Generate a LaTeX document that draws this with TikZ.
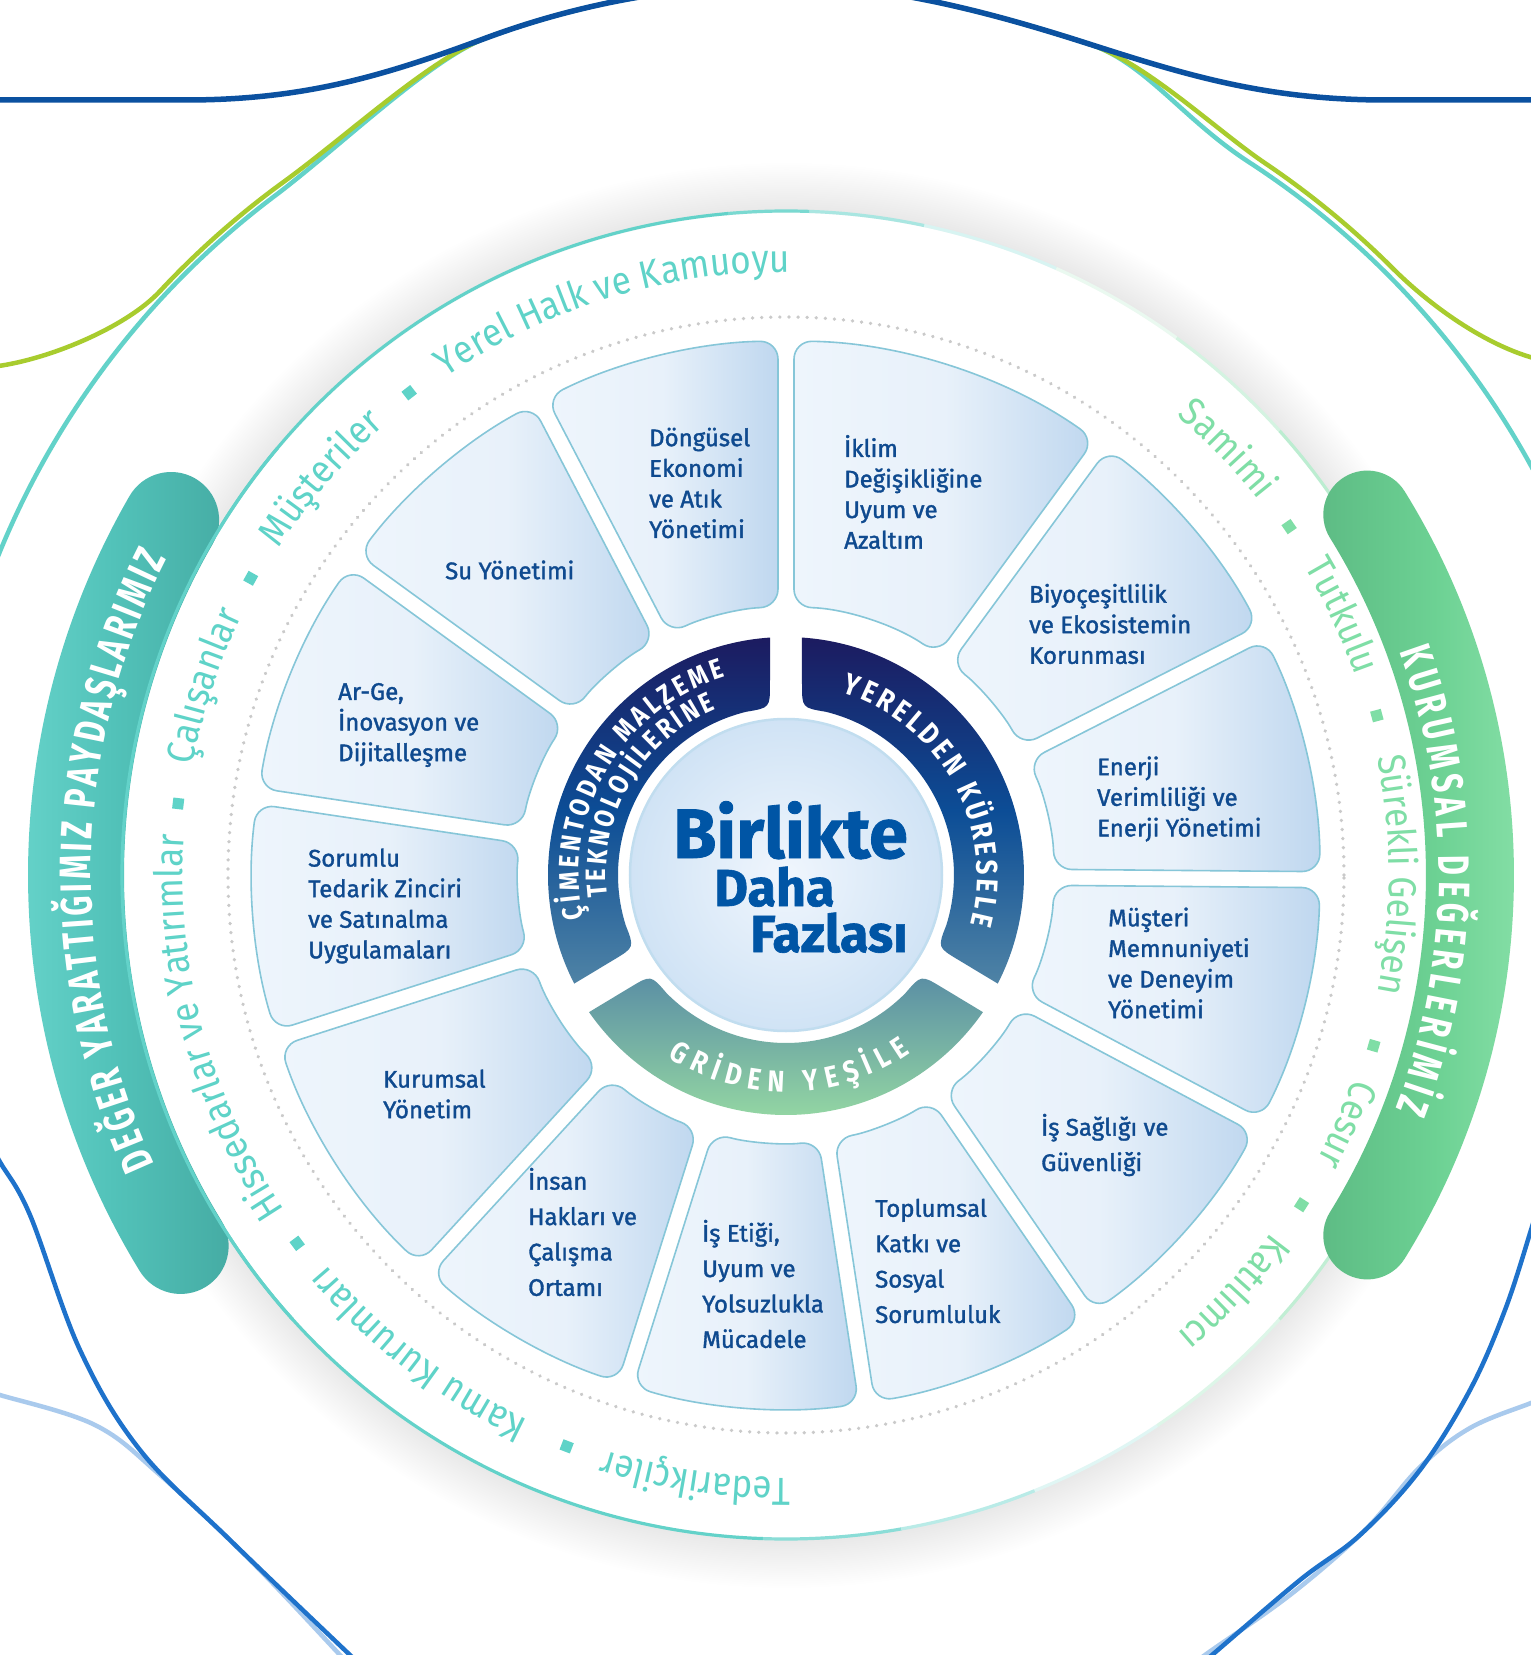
\documentclass[tikz,border=0pt]{standalone}
\usepackage{fontspec}
\setmainfont{Fira Sans}
\usetikzlibrary{decorations.text,calc}
\newfontfamily\tilefam{Fira Sans}[FakeBold=1.5]
\newfontfamily\ringfam{Fira Sans}[FakeStretch=0.85]
\newfontfamily\bandfam{Fira Sans}[FakeStretch=0.7]
\newfontfamily\olfam{Fira Sans}[FakeStretch=0.9]
\newfontfamily\ctrfam{Fira Sans}[FakeBold=1.2]
\newcommand\RFa{\ringfam\bfseries\fontsize{28}{30}\selectfont}
\newcommand\RFb{\ringfam\bfseries\fontsize{30}{32}\selectfont}
\newcommand\BFt{\bandfam\bfseries\fontsize{44}{48}\selectfont}
\newcommand\OLF{\olfam\fontsize{39}{44}\selectfont}
\newcommand\CTa{\ctrfam\bfseries\fontsize{70}{74}\selectfont}
\newcommand\CTb{\ctrfam\bfseries\fontsize{52}{56}\selectfont}
\definecolor{navyA}{HTML}{1C1B60}
\definecolor{ringB}{HTML}{0C4D96}
\definecolor{ringS}{HTML}{4F83A5}
\definecolor{griT}{HTML}{5A8EA4}
\definecolor{griB}{HTML}{95D8A3}
\definecolor{tealLab}{HTML}{5FD3C8}
\definecolor{greenLab}{HTML}{7FDEA6}
\definecolor{tileTxt}{HTML}{0F4A8F}
\definecolor{ctrTxt}{HTML}{0055A5}
\definecolor{tileL}{HTML}{EEF5FC}
\definecolor{tileM}{HTML}{E8F1FA}
\definecolor{tileR}{HTML}{BFD7EF}
\definecolor{tileB}{HTML}{86C6D8}
\definecolor{bandTL}{HTML}{6BD7CE}
\definecolor{bandTM}{HTML}{52C2B9}
\definecolor{bandTD}{HTML}{45ABA3}
\definecolor{bandGL}{HTML}{8DE3AC}
\definecolor{bandGM}{HTML}{6CD193}
\definecolor{bandGD}{HTML}{5DBB84}
\definecolor{blueWave}{HTML}{0B51A0}
\definecolor{tealLine}{HTML}{63D2C9}
\definecolor{greenLine}{HTML}{A8CC2E}
\definecolor{blueLow}{HTML}{1E72CB}
\definecolor{blueLight}{HTML}{A9CAED}
\definecolor{greenThin}{HTML}{9FE5BD}
\definecolor{dotC}{HTML}{CACACA}
\definecolor{ctrIn}{HTML}{F0F6FD}
\definecolor{ctrOut}{HTML}{D0E3F5}
\pgfdeclareradialshading{ringshadow}{\pgfpointorigin}{color(0bp)=(white); color(22.85bp)=(white); color(22.9bp)=(black!9); color(24.6bp)=(white); color(50bp)=(white)}
\newcommand\OL[3]{%
 \pgfmathsetmacro\olA{#1+45}\pgfmathsetmacro\olB{#1-45}%
 \path[decorate,decoration={text along path,text={|\OLF|#3},text color=#2,text align=center}] (\olA:603) arc[start angle=\olA,end angle=\olB,radius=603];}
\begin{document}
\begin{tikzpicture}[x=1pt,y=1pt,
  tilebox/.style={shade,left color=tileL,right color=tileR,middle color=tileM,draw=tileB,line width=1.6,rounded corners=18pt},
  tt/.style={font=\tilefam\fontsize{24}{30.6}\selectfont,text=tileTxt,align=left,inner sep=0pt,anchor=west},
  ttw/.style={font=\tilefam\fontsize{24}{35.4}\selectfont,text=tileTxt,align=left,inner sep=0pt,anchor=west},
  blt/.style={minimum size=11pt,inner sep=0pt,draw=none},
  bgline/.style={line width=4.5,line cap=round}]
\useasboundingbox (-786,-780) rectangle (745,875);
\fill[white] (-786,-780) rectangle (745,875);
% ---------- background curves
\begin{scope}
\clip (-786,-780) rectangle (745,875);
\draw[bgline,tealLine] (159:850) arc[start angle=159,end angle=127,radius=850]
  .. controls (-447.5,727) and (-356,816) .. (-300,837)
  .. controls (-200,874) and (-100,890) .. (0,890)
  .. controls (100,890) and (200,864) .. (300,832)
  .. controls (357.5,814.8) and (395.8,756.5) .. (57:850)
  arc[start angle=57,end angle=25,radius=850];
\draw[bgline,greenLine] (-795,508) .. controls (-740,514) and (-660.1,547.3) .. (137:856)
  arc[start angle=137,end angle=126,radius=856]
  .. controls (-438.4,739.5) and (-356.3,816.2) .. (-300,837)
  .. controls (-200,874) and (-100,890) .. (0,890)
  .. controls (100,890) and (200,864) .. (300,832)
  .. controls (357.5,814.8) and (430,744.8) .. (56:858)
  arc[start angle=56,end angle=45,radius=858]
  .. controls (642,571.3) and (700,528) .. (755,515);
\draw[bgline,blueWave,line width=5.5] (-800,775) -- (-600,775)
  .. controls (-480,775) and (-400,800) .. (-300,837)
  .. controls (-200,874) and (-100,890) .. (0,890)
  .. controls (100,890) and (200,864) .. (300,832)
  .. controls (400,800) and (480,775) .. (600,775) -- (760,775);
\draw[bgline,blueLight] plot[smooth,tension=0.6] coordinates {(-800,-516) (-786,-520) (-691,-550) (-626,-600) (-536,-685) (-446,-780) (-432,-796)};
\draw[bgline,blueLow] plot[smooth,tension=0.6] coordinates {(-800,-262) (-786,-287) (-756,-340) (-706,-475) (-646,-575) (-556,-665) (-436,-780) (-418,-796)};
\draw[bgline,blueLight] plot[smooth,tension=0.6] coordinates {(760,-522) (745,-528) (684,-553) (634,-592) (579,-655) (504,-720) (419,-780) (404,-793)};
\draw[bgline,blueLow] plot[smooth,tension=0.6] coordinates {(752,-330) (745,-355) (719,-435) (684,-515) (634,-595) (574,-660) (514,-705) (426,-780) (410,-793)};
\end{scope}
% ---------- soft shadow ring and thin circle
\shade[shading=ringshadow] (0,0) circle (725);
\foreach \a/\b/\c in {95/268/tealLine,268/280/tealLine!75,280/292/tealLine!45,292/304/tealLine!20,
  304/318/greenThin!35,318/332/greenThin!65,332/390/greenThin,390/402/greenThin!70,
  402/414/greenThin!45,414/426/greenThin!22,426/438/tealLine!25,438/448/tealLine!55,448/455/tealLine!85}
  \draw[line width=3.2,color=\c] (\a:664) arc[start angle=\a,end angle=\b,radius=664];
% ---------- side bands (round caps)
\path[shade,left color=bandTL,right color=bandTD,middle color=bandTM]
  (150:758) arc[start angle=150,end angle=211.5,radius=758]
  arc[start angle=211.5,end angle=391.5,radius=48]
  arc[start angle=211.5,end angle=150,radius=662]
  arc[start angle=330,end angle=510,radius=48] -- cycle;
\draw[line width=3.2,color=tealLine] (140:664) arc[start angle=140,end angle=222,radius=664];
\path[shade,left color=bandGD,right color=bandGL,middle color=bandGM]
  (-31.8:728) arc[start angle=-31.8,end angle=31.8,radius=728]
  arc[start angle=31.8,end angle=211.8,radius=44]
  arc[start angle=31.8,end angle=-31.8,radius=640]
  arc[start angle=148.2,end angle=328.2,radius=44] -- cycle;
\path[decorate,decoration={text along path,text={|\BFt|DEĞER YARATTIĞIMIZ PAYDAŞLARIMIZ},text color=white,text align={fit to path}}]
  (204.6:695) arc[start angle=204.6,end angle=152.9,radius=695];
\path[decorate,decoration={text along path,text={|\BFt|KURUMSAL DEĞERLERİMİZ},text color=white,text align={fit to path}}]
  (20:653) arc[start angle=20,end angle=-21,radius=653];
% ---------- outer labels
\OL{107}{tealLab}{Yerel Halk ve Kamuoyu}
\OL{139.5}{tealLab}{Müşteriler}
\OL{162}{tealLab}{Çalışanlar}
\OL{195}{tealLab}{Hissedarlar ve Yatırımlar}
\OL{232.5}{tealLab}{Kamu Kurumları}
\OL{261.5}{tealLab}{Tedarikçiler}
\OL{44}{greenLab}{Samimi}
\OL{25}{greenLab}{Tutkulu}
\OL{0}{greenLab}{Sürekli Gelişen}
\OL{-24}{greenLab}{Cesur}
\OL{-43}{greenLab}{Katılımcı}
\foreach \a [count=\i] in {128,151,173.3,217,249}
  \node[blt,fill=tealLab,rotate=\a] (bt\i) at (\a:612) {};
\foreach \a [count=\i] in {34.7,15.1,-16.2,-32.6}
  \node[blt,fill=greenLab,rotate=\a] (bg\i) at (\a:612) {};
% ---------- dotted circle
\draw[dotC,line width=3.6,line cap=round,dash pattern=on 0.1pt off 9pt] (0,0) circle (558);
% ---------- tiles
\foreach \ga/\gb in {-0.5/27,27/53.8,53.8/90,90/117.5,117.5/144,144/171.5,171.5/197.8,197.8/227.5,227.5/252.5,252.5/278.7,278.7/304.5,304.5/332,332/359.5}{
  \pgfmathsetmacro\tOa{\ga+0.86}\pgfmathsetmacro\tOb{\gb-0.86}
  \pgfmathsetmacro\tIa{\ga+1.71}\pgfmathsetmacro\tIb{\gb-1.71}
  \path[tilebox] (\tOa:534) arc[start angle=\tOa,end angle=\tOb,radius=534]
    -- (\tIb:268) arc[start angle=\tIb,end angle=\tIa,radius=268] -- cycle;
}
\node[tt] (t1) at (-137,392) {Döngüsel\\Ekonomi\\ve Atık\\Yönetimi};
\node[tt] (t2) at (58,383) {İklim\\Değişikliğine\\Uyum ve\\Azaltım};
\node[tt] (t3) at (243,251) {Biyoçeşitlilik\\ve Ekosistemin\\Korunması};
\node[tt] (t4) at (311,76) {Enerji\\Verimliliği ve\\Enerji Yönetimi};
\node[tt] (t5) at (322,-88) {Müşteri\\Memnuniyeti\\ve Deneyim\\Yönetimi};
\node[ttw] (t6) at (255,-270) {İş Sağlığı ve\\Güvenliği};
\node[ttw] (t7) at (89,-386) {Toplumsal\\Katkı ve\\Sosyal\\Sorumluluk};
\node[ttw] (t8) at (-84,-409) {İş Etiği,\\Uyum ve\\Yolsuzlukla\\Mücadele};
\node[ttw] (t9) at (-258,-357) {İnsan\\Hakları ve\\Çalışma\\Ortamı};
\node[tt] (t10) at (-403,-219) {Kurumsal\\Yönetim};
\node[tt] (t11) at (-478,-31) {Sorumlu\\Tedarik Zinciri\\ve Satınalma\\Uygulamaları};
\node[tt] (t12) at (-448,150) {Ar-Ge,\\İnovasyon ve\\Dijitalleşme};
\node[tt] (t13) at (-341,305) {Su Yönetimi};
% ---------- inner ring segments
\path[shade,top color=navyA,bottom color=ringS,middle color=ringB]
  (93.85:238) arc[start angle=93.85,end angle=207.15,radius=238]
  -- ($(205.53:168)!24pt!(207.15:238)$) .. controls (205.53:168) .. (197.35:168)
  arc[start angle=197.35,end angle=103.65,radius=168]
  .. controls (95.47:168) .. ($(95.47:168)!24pt!(93.85:238)$) -- cycle;
\path[shade,top color=navyA,bottom color=ringS,middle color=ringB]
  (86.15:238) arc[start angle=86.15,end angle=-27.15,radius=238]
  -- ($(-25.53:168)!24pt!(-27.15:238)$) .. controls (-25.53:168) .. (-17.35:168)
  arc[start angle=-17.35,end angle=76.35,radius=168]
  .. controls (84.53:168) .. ($(84.53:168)!24pt!(86.15:238)$) -- cycle;
\path[shade,top color=griT,bottom color=griB]
  (214.85:240) arc[start angle=214.85,end angle=325.15,radius=240]
  -- ($(323.53:168)!24pt!(325.15:240)$) .. controls (323.53:168) .. (315.35:168)
  arc[start angle=315.35,end angle=224.65,radius=168]
  .. controls (216.47:168) .. ($(216.47:168)!24pt!(214.85:240)$) -- cycle;
\path[decorate,decoration={text along path,text={|\RFa|ÇİMENTODAN MALZEME},text color=white,text align={fit to path}}]
  (192:207) arc[start angle=192,end angle=107,radius=207];
\path[decorate,decoration={text along path,text={|\RFa|TEKNOLOJİLERİNE},text color=white,text align={fit to path}}]
  (187:180) arc[start angle=187,end angle=113,radius=180];
\path[decorate,decoration={text along path,text={|\RFb|YERELDEN KÜRESELE},text color=white,text align={fit to path}}]
  (73:191) arc[start angle=73,end angle=-15,radius=191];
\path[decorate,decoration={text along path,text={|\RFb|GRİDEN YEŞİLE},text color=white,text align={fit to path}}]
  (237:217) arc[start angle=237,end angle=305,radius=217];
% ---------- centre
\shade[inner color=ctrIn,outer color=ctrOut] (0,0) circle (156);
\draw[color=ctrOut!80!tileB,line width=2.5] (0,0) circle (156);
\node[font=\CTa,text=ctrTxt,inner sep=0pt,anchor=base east] (c1) at (122,17) {Birlikte};
\node[font=\CTb,text=ctrTxt,inner sep=0pt,anchor=base west] (c2) at (-72,-31) {Daha};
\node[font=\CTb,text=ctrTxt,inner sep=0pt,anchor=base east] (c3) at (122,-77) {Fazlası};
\end{tikzpicture}
\end{document}
